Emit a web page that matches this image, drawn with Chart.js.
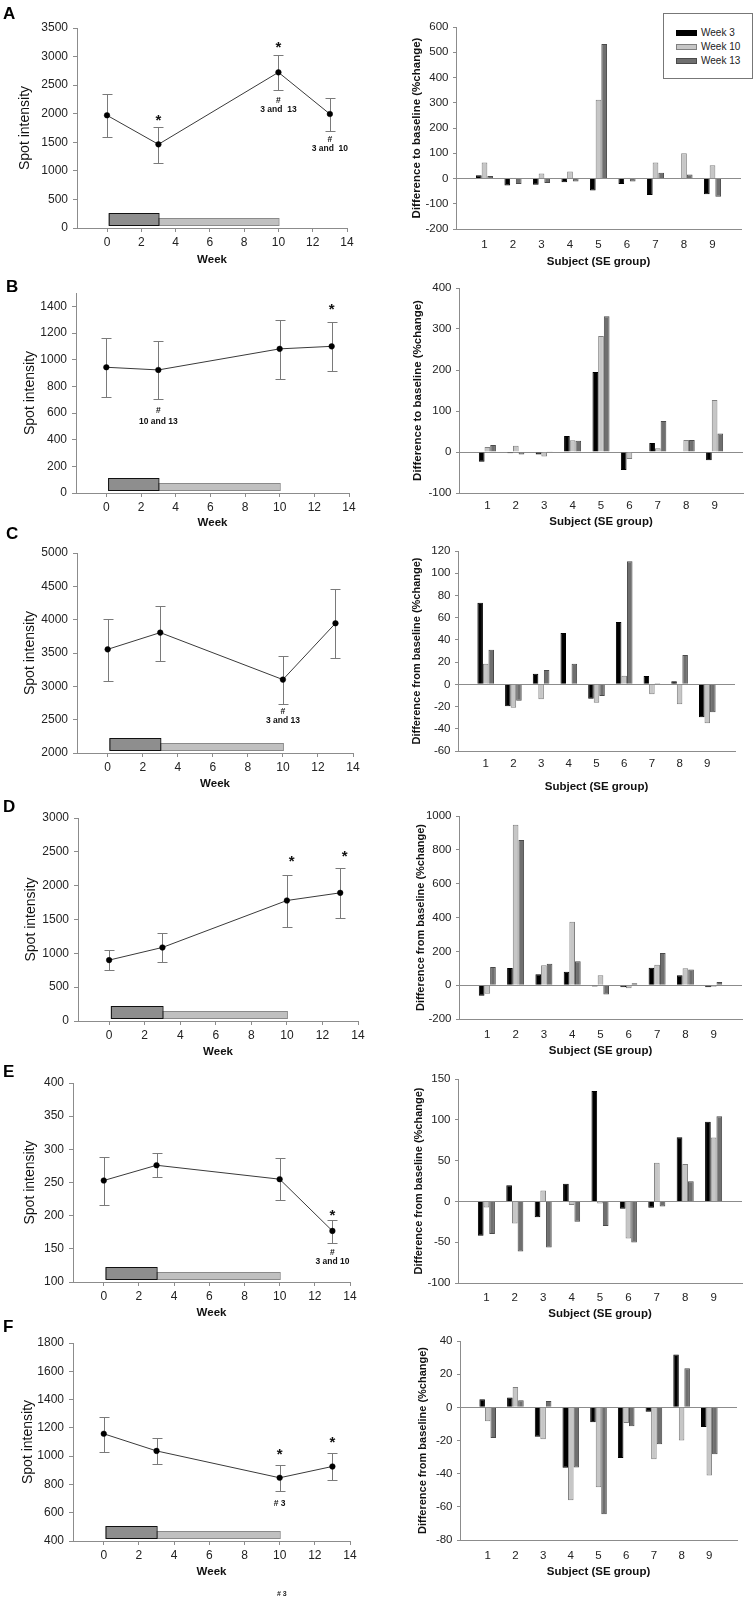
<!DOCTYPE html>
<html lang="en">
<head>
<meta charset="UTF-8" />
<title>Spot intensity and change from baseline</title>
<script src="https://cdn.jsdelivr.net/npm/chart.js"></script>
<style>
  body { margin: 0; background: #fff; font-family: 'Liberation Sans', Arial, sans-serif; }
  #page { position: relative; width: 755px; height: 1600px; overflow: hidden; background: #fff; }
  canvas { position: absolute; }
  .letter { position: absolute; font-weight: bold; font-size: 17px; line-height: 1; color: #000; z-index: 2; }
  #legend { position: absolute; left: 663px; top: 13px; width: 88px; height: 64px; border: 1px solid #777; background: #fff; font-size: 10px; color: #222; z-index: 2; }
  #legend div { position: absolute; left: 12px; height: 12px; line-height: 12px; white-space: nowrap; }
  #legend .sw { display: inline-block; width: 21px; height: 6px; margin-right: 4px; vertical-align: middle; box-sizing: border-box; border: 1px solid #555; }
  #stray { position: absolute; left: 277px; top: 1590px; font-size: 7px; font-weight: bold; color: #222; }
</style>
</head>
<body>
<div id="page"></div>

<script>
  // ---- data ----
  const panelLetters = ['A', 'B', 'C', 'D', 'E', 'F'];
  const weeks = [0, 3, 10, 13];
  const weekTicks = [0, 2, 4, 6, 8, 10, 12, 14];
  const treatment = [[0.1, 3], [3, 10]];   // dark box weeks, light bar weeks

  const spotMean = [
    [1972, 1464, 2724, 1995],
    [943, 923, 1081, 1100],
    [3555, 3806, 3101, 3946],
    [900, 1087, 1781, 1894],
    [253, 276, 255, 177],
    [1158, 1037, 847, 927]
  ];
  const spotErrHigh = [
    [2345, 1768, 3034, 2275],
    [1163, 1138, 1298, 1280],
    [4010, 4205, 3455, 4460],
    [1043, 1299, 2164, 2263],
    [289, 295, 287, 193],
    [1280, 1129, 937, 1024]
  ];
  const spotErrLow = [
    [1593, 1143, 2409, 1703],
    [718, 704, 856, 913],
    [3086, 3386, 2741, 3420],
    [748, 866, 1382, 1515],
    [216, 258, 223, 159],
    [1031, 941, 751, 828]
  ];
  const spotMin = [0, 0, 2000, 0, 100, 400];
  const spotMax = [3500, 1500, 5000, 3000, 400, 1800];
  const spotStep = [500, 200, 500, 500, 50, 200];

  // [week, value, text]
  const notes = [
    [[3, 1950, '*'], [10, 3240, '*'], [10, 2235, '#'], [10, 2075, '3 and  13'], [13, 1545, '#'], [13, 1390, '3 and  10']],
    [[13, 1405, '*'], [3, 614, '#'], [3, 537, '10 and 13']],
    [[10, 2625, '#'], [10, 2480, '3 and 13']],
    [[10.27, 2425, '*'], [13.25, 2499, '*']],
    [[13, 206, '*'], [13, 144, '#'], [13, 131, '3 and 10']],
    [[10, 1042, '*'], [13, 1125, '*'], [10, 666, '# 3']]
  ];

  const subjects = ['1', '2', '3', '4', '5', '6', '7', '8', '9'];
  const seriesNames = ['Week 3', 'Week 10', 'Week 13'];
  const changeWeek3 = [
    [13, -28, -25, -15, -48, -22, -65, 0, -62],
    [-24, -3, -6, 39, 195, -44, 22, -1, -20],
    [73.5, -19.8, 9.6, 46.2, -12.9, 56.1, 7.5, 2.7, -29.7],
    [-62, 102, 65, 80, -8, -12, 103, 58, -12],
    [-42, 19.7, -19.3, 21.7, 135.2, -9, -7.8, 78.7, 97.5],
    [4.8, 6, -17.7, -36.5, -9, -30.5, -2.6, 31.9, -11.8]
  ];
  const changeWeek10 = [
    [63, 3, 20, 28, 312, 3, 63, 100, 52],
    [12, 15, -11, 28.5, 283, -17, 9, 29, 127],
    [18.6, -21, -13.5, 0, -16.5, 7.8, -9, -18, -35.1],
    [-50, 948, 117, 375, 58, -18, 120, 100, -10],
    [-7.4, -27, 13.5, -4.5, -2.5, -45.5, 47.5, 45.9, 78.3],
    [-8.4, 12.2, -19.3, -56, -48.2, -9.4, -31.3, -20, -41.1]
  ];
  const changeWeek13 = [
    [10, -22, -18, -12, 533, -12, 23, 16, -72],
    [17, -6, 2, 27.6, 331, -1, 75.6, 29, 45],
    [31.2, -14.7, 12.9, 18.6, -10.5, 110.7, 0.9, 26.4, -25.2],
    [108, 858, 126, 142, -55, 12, 190, 92, 18],
    [-40, -61.5, -56.6, -25, -30, -50.4, -6.1, 24.6, 104.5],
    [-18.5, 4.2, 3.8, -36.3, -64.4, -11.4, -22.3, 23.5, -28.3]
  ];
  const changeMin = [-200, -100, -60, -200, -100, -80];
  const changeMax = [600, 400, 120, 1000, 150, 40];
  const changeStep = [100, 100, 20, 200, 50, 20];
  const changeTitles = [
    'Difference to baseline (%change)',
    'Difference to baseline (%change)',
    'Difference from baseline (%change)',
    'Difference from baseline (%change)',
    'Difference from baseline (%change)',
    'Difference from baseline (%change)'
  ];

  // ---- layout (canvas-relative) ----
  const CH = 275;
  const rowTop = [0, 265, 530, 795, 1060, 1325];
  const letterTop = [4.5, 278, 525, 798, 1063, 1318];
  const letterLeft = [3, 6, 6, 3, 3, 3];
  // left, right, top, bottom of plot; tick label centre; x-title centre; y-title centre
  const lineBox = [
    [77, 347, 28, 228, 243, 260, 25],
    [76, 349, 28, 228, 243, 258, 30],
    [77, 353, 23, 223, 238, 254, 30],
    [78, 358, 23, 226, 241, 257, 31],
    [73, 350, 23, 222, 237, 253, 30],
    [73, 350, 18, 216, 231, 247, 28]
  ];
  const barBox = [
    [76, 361, 27, 229, 245, 262, 37],
    [79, 363, 23, 228, 241, 257, 38],
    [78, 355, 21, 221, 234, 257, 37],
    [79, 362, 21, 224, 240, 256, 41],
    [78, 362, 19, 223, 238, 254, 39],
    [80, 357, 16, 215, 231, 247, 43]
  ];
  const barFill = ['#000000', '#c6c6c6', '#6f6f6f'];
  const barEdge = ['#000000', '#808080', '#4a4a4a'];
  const axisGrey = '#8c8c8c';
  const FONT = "'Liberation Sans', Arial, sans-serif";

  const page = document.getElementById('page');

  function addCanvas(left, top, w, h) {
    const c = document.createElement('canvas');
    c.width = w; c.height = h;
    c.style.left = left + 'px';
    c.style.top = top + 'px';
    page.appendChild(c);
    return c;
  }

  // ticks at every step from min, never the odd max (panel B stops at 1400)
  function stepTicks(min, max, step) {
    return s => {
      const t = [];
      for (let v = min; v <= max + 1e-9; v += step) t.push({ value: v });
      s.ticks = t;
    };
  }

  // treatment boxes under the line charts
  const treatmentPlugin = {
    id: 'treatment',
    beforeDatasetsDraw(chart) {
      const { ctx, scales: { x }, chartArea } = chart;
      const base = chartArea.bottom;
      const light = treatment[1], dark = treatment[0];
      ctx.save();
      ctx.lineWidth = 1;
      let x0 = x.getPixelForValue(light[0]), x1 = x.getPixelForValue(light[1]);
      ctx.fillStyle = '#c0c0c0';
      ctx.strokeStyle = '#8a8a8a';
      ctx.fillRect(x0, base - 10, x1 - x0, 7);
      ctx.strokeRect(x0 + 0.5, base - 9.5, x1 - x0, 7);
      x0 = x.getPixelForValue(dark[0]); x1 = x.getPixelForValue(dark[1]);
      ctx.fillStyle = '#8e8e8e';
      ctx.strokeStyle = '#111';
      ctx.fillRect(x0, base - 14.5, x1 - x0, 12);
      ctx.strokeRect(x0 + 0.5, base - 14.5, x1 - x0, 12);
      ctx.restore();
    }
  };

  function errorBarPlugin(i) {
    return {
      id: 'errorBars',
      beforeDatasetsDraw(chart) {
        const { ctx, scales: { x, y } } = chart;
        ctx.save();
        ctx.strokeStyle = '#7a7a7a';
        ctx.lineWidth = 1;
        weeks.forEach((wk, k) => {
          const px = Math.round(x.getPixelForValue(wk)) + 0.5;
          const top = Math.round(y.getPixelForValue(spotErrHigh[i][k])) + 0.5;
          const bot = Math.round(y.getPixelForValue(spotErrLow[i][k])) + 0.5;
          ctx.beginPath();
          ctx.moveTo(px, top); ctx.lineTo(px, bot);
          ctx.moveTo(px - 5, top); ctx.lineTo(px + 5, top);
          ctx.moveTo(px - 5, bot); ctx.lineTo(px + 5, bot);
          ctx.stroke();
        });
        ctx.restore();
      }
    };
  }

  function notesPlugin(i) {
    return {
      id: 'notes',
      afterDatasetsDraw(chart) {
        const { ctx, scales: { x, y } } = chart;
        ctx.save();
        ctx.fillStyle = '#111';
        ctx.textAlign = 'center';
        notes[i].forEach(([wk, val, text]) => {
          const px = x.getPixelForValue(wk), py = y.getPixelForValue(val);
          if (text === '*') {
            ctx.font = 'bold 15px ' + FONT;
            ctx.textBaseline = 'alphabetic';
            ctx.fillText(text, px, py + 8.8);
          } else {
            ctx.font = 'bold 8.5px ' + FONT;
            ctx.textBaseline = 'middle';
            ctx.fillText(text, px, py);
          }
        });
        ctx.restore();
      }
    };
  }

  function lineChart(i) {
    const b = lineBox[i];
    const canvas = addCanvas(0, rowTop[i], 380, CH);
    return new Chart(canvas, {
      type: 'line',
      data: {
        datasets: [{
          data: weeks.map((wk, k) => ({ x: wk, y: spotMean[i][k] })),
          borderColor: '#3a3a3a',
          borderWidth: 1,
          pointRadius: 2.8,
          pointBorderWidth: 0.5,
          pointBackgroundColor: '#000',
          pointBorderColor: '#000',
          tension: 0
        }]
      },
      options: {
        responsive: false,
        animation: false,
        events: [],
        layout: { padding: { left: 0, top: b[2], right: 380 - b[1], bottom: 0 } },
        plugins: { legend: { display: false }, tooltip: { enabled: false } },
        scales: {
          x: {
            type: 'linear',
            min: -1.75,
            max: 14,
            afterBuildTicks: s => { s.ticks = weekTicks.map(v => ({ value: v })); },
            afterFit: s => { s.height = CH - b[3]; },
            grid: { drawOnChartArea: false, drawTicks: true, tickLength: 4, color: axisGrey },
            border: { color: axisGrey },
            ticks: { font: { family: FONT, size: 12 }, color: '#222', padding: b[4] - b[3] - 4 - 7.2, maxRotation: 0 },
            title: {
              display: true, text: 'Week', color: '#111',
              font: { family: FONT, size: 11.5, weight: 'bold' },
              padding: { top: 0, bottom: CH - b[5] - 6.9 }
            }
          },
          y: {
            min: spotMin[i],
            max: spotMax[i],
            afterBuildTicks: stepTicks(spotMin[i], spotMax[i], spotStep[i]),
            afterFit: s => { s.width = b[0]; },
            grid: { drawOnChartArea: false, drawTicks: true, tickLength: 4, color: axisGrey },
            border: { color: axisGrey },
            ticks: { stepSize: spotStep[i], font: { family: FONT, size: 12 }, color: '#222', padding: 5, callback: v => String(v) },
            title: {
              display: true, text: 'Spot intensity', color: '#111',
              font: { family: FONT, size: 14 },
              padding: { top: b[6] - 8.4, bottom: 0 }
            }
          }
        }
      },
      plugins: [treatmentPlugin, errorBarPlugin(i), notesPlugin(i)]
    });
  }

  function barChart(i) {
    const b = barBox[i];
    const canvas = addCanvas(380, rowTop[i], 375, CH);
    const pad = arr => [null, ...arr, null];
    const series = [changeWeek3[i], changeWeek10[i], changeWeek13[i]];
    const titleSize = i < 2 ? 11.5 : 11;
    return new Chart(canvas, {
      type: 'bar',
      data: {
        labels: ['', ...subjects, ''],
        datasets: series.map((vals, k) => ({
          label: seriesNames[k],
          data: pad(vals),
          backgroundColor: barFill[k],
          borderColor: barEdge[k],
          borderWidth: 1
        }))
      },
      options: {
        responsive: false,
        animation: false,
        events: [],
        categoryPercentage: 0.6,
        barPercentage: 1,
        layout: { padding: { left: 0, top: b[2], right: 375 - b[1], bottom: 0 } },
        plugins: { legend: { display: false }, tooltip: { enabled: false } },
        scales: {
          x: {
            offset: false,
            afterFit: s => { s.height = CH - b[3]; },
            grid: { display: false, drawTicks: false },
            border: { color: axisGrey },
            ticks: { font: { family: FONT, size: 11.5 }, color: '#222', padding: b[4] - b[3] - 6.9, maxRotation: 0, autoSkip: false },
            title: {
              display: true, text: 'Subject (SE group)', color: '#111',
              font: { family: FONT, size: 11.5, weight: 'bold' },
              padding: { top: 0, bottom: CH - b[5] - 6.9 }
            }
          },
          y: {
            min: changeMin[i],
            max: changeMax[i],
            afterBuildTicks: stepTicks(changeMin[i], changeMax[i], changeStep[i]),
            afterFit: s => { s.width = b[0]; },
            grid: {
              drawOnChartArea: true, drawTicks: true, tickLength: 3,
              color: c => (c.tick && c.tick.value === 0 ? axisGrey : 'rgba(0,0,0,0)'),
              tickColor: axisGrey
            },
            border: { color: axisGrey },
            ticks: { stepSize: changeStep[i], font: { family: FONT, size: 11.5 }, color: '#222', padding: 4.5, callback: v => String(v) },
            title: {
              display: true, text: changeTitles[i], color: '#111',
              font: { family: FONT, size: titleSize, weight: 'bold' },
              padding: { top: b[6] - 0.6 * titleSize, bottom: 0 }
            }
          }
        }
      }
    });
  }

  panelLetters.forEach((letter, i) => {
    lineChart(i);
    barChart(i);
    const d = document.createElement('div');
    d.className = 'letter';
    d.textContent = letter;
    d.style.left = letterLeft[i] + 'px';
    d.style.top = letterTop[i] + 'px';
    page.appendChild(d);
  });

  // legend box of panel A
  const legend = document.createElement('div');
  legend.id = 'legend';
  seriesNames.forEach((name, k) => {
    const row = document.createElement('div');
    row.style.top = (13 + k * 14) + 'px';
    const sw = document.createElement('span');
    sw.className = 'sw';
    sw.style.background = barFill[k];
    sw.style.borderColor = barEdge[k];
    row.appendChild(sw);
    row.appendChild(document.createTextNode(name));
    legend.appendChild(row);
  });
  page.appendChild(legend);

  const stray = document.createElement('div');
  stray.id = 'stray';
  stray.textContent = '# 3';
  page.appendChild(stray);
</script>
</body>
</html>
